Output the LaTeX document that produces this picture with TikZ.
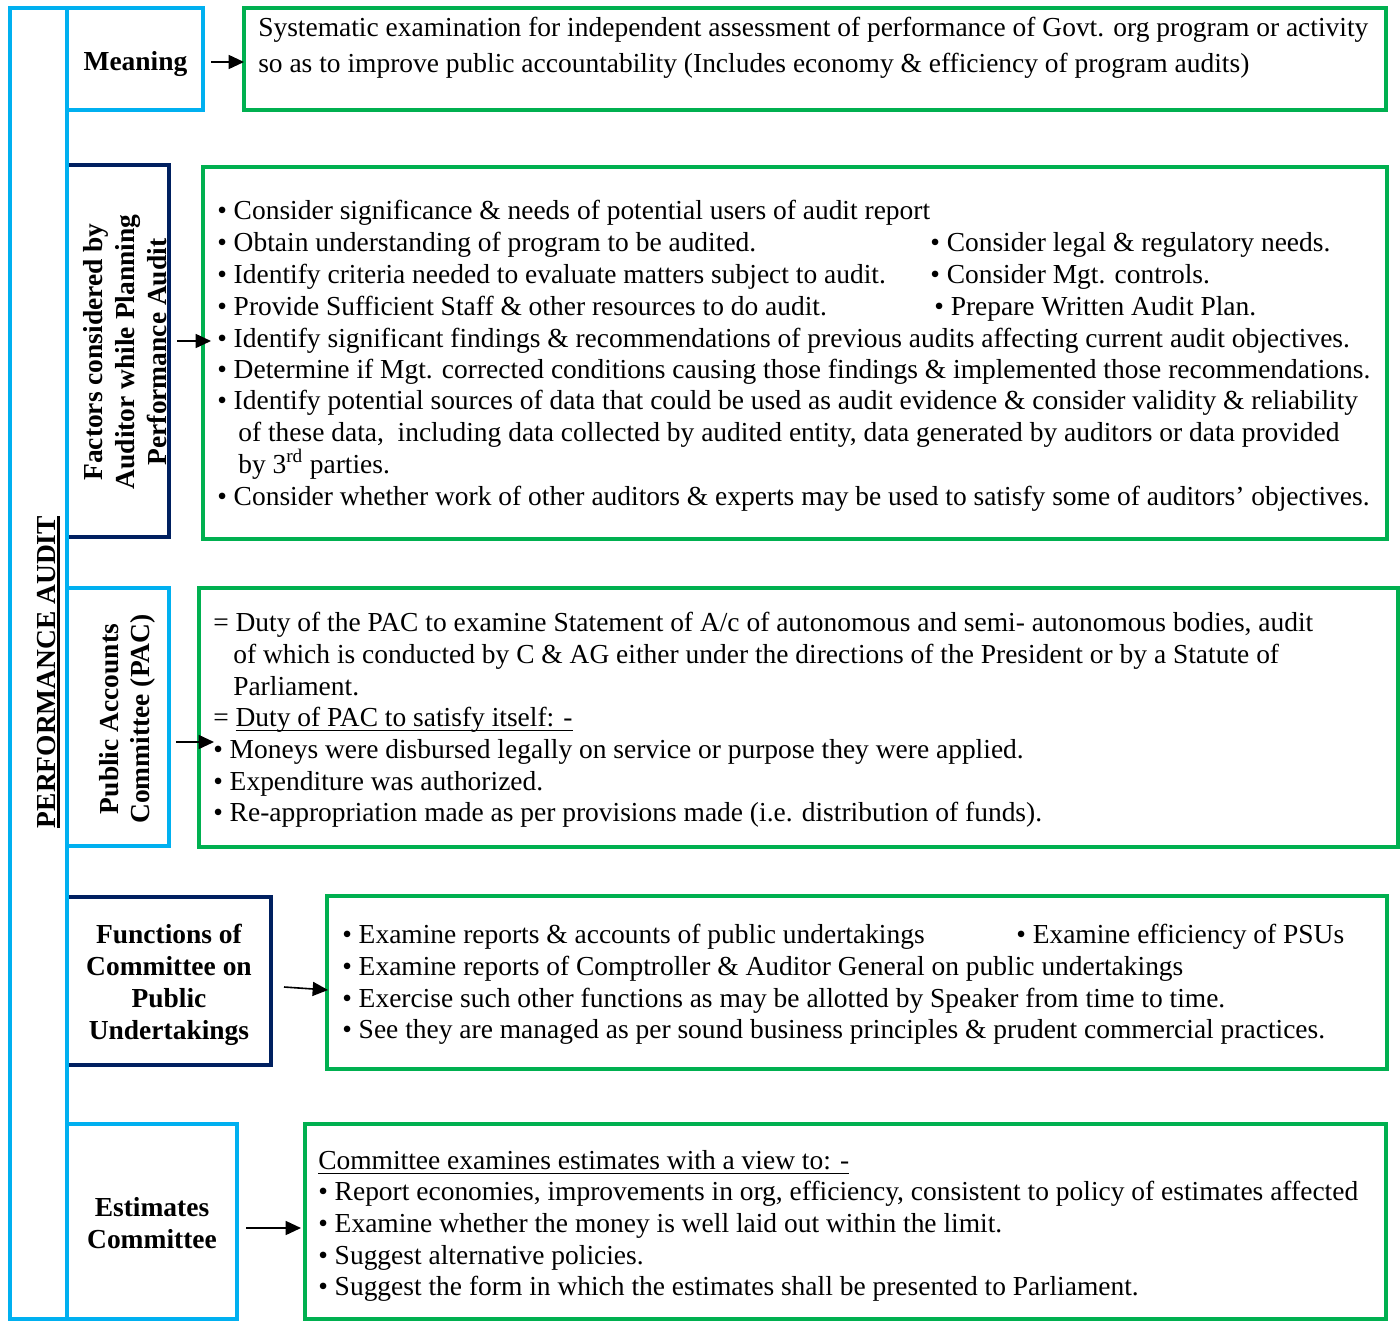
\documentclass[tikz,border=0pt]{standalone}
\usepackage{fontspec}
\setmainfont{Liberation Serif}
\usetikzlibrary{fit,arrows.meta}
\definecolor{cyanB}{HTML}{00B0F0}
\definecolor{greenB}{HTML}{00B050}
\definecolor{navyB}{HTML}{002060}
\newcommand\fs{\fontsize{20.6}{24}\selectfont}
\newcommand\myul[1]{{\setbox0\hbox{#1}\rlap{\rule[-4.1pt]{\wd0}{0.8pt}}\box0}}
\newcommand\myulb[1]{{\setbox0\hbox{#1}\rlap{\rule[-3.7pt]{\wd0}{2.3pt}}\box0}}
\begin{document}
\begin{tikzpicture}[x=0.75pt,y=-0.75pt,
  bx/.style={draw, line width=3.4pt, inner sep=0pt},
  cbox/.style={bx, draw=cyanB},
  gbox/.style={bx, draw=greenB},
  nbox/.style={bx, draw=navyB},
  txt/.style={anchor=base west, inner sep=0pt, font=\fs},
  lbl/.style={anchor=base, inner sep=0pt, font=\fs\bfseries},
  arr/.style={-{Triangle[length=11.5pt,width=10.5pt]}, line width=1.2pt}]
\useasboundingbox (0,0) rectangle (1400,1321);
% navy boxes
\node[nbox, fit={(67,165) (169,537)}] (factors) {};
\node[nbox, fit={(67,897) (271,1065)}] (cpu) {};
% left bar and cyan boxes
\node[cbox, fit={(10,8) (67,1319)}] (pa) {};
\node[cbox, fit={(67,8) (203,110)}] (meaning) {};
\node[cbox, fit={(67,588) (169,846)}] (pac) {};
\node[cbox, fit={(67,1124) (237,1319)}] (est) {};
% green boxes
\node[gbox, fit={(244,8) (1386,110)}] (gmeaning) {};
\node[gbox, fit={(203,167) (1387,539)}] (gfactors) {};
\node[gbox, fit={(199,588) (1398,847)}] (gpac) {};
\node[gbox, fit={(327,896) (1387,1069)}] (gcpu) {};
\node[gbox, fit={(305,1124) (1386,1319)}] (gest) {};
% left labels
\node[lbl, rotate=90] (pat) at (55,672) {\myulb{PERFORMANCE AUDIT}};
\node[lbl] (meaningt) at (135.5,70) {Meaning};
\node[lbl, rotate=90] (fa) at (102,352) {Factors considered by};
\node[lbl, rotate=90] (fb) at (134,352) {Auditor while Planning};
\node[lbl, rotate=90] (fc) at (166,352) {Performance Audit};
\node[lbl, rotate=90] (pa1) at (118,719) {Public Accounts};
\node[lbl, rotate=90] (pa2) at (149,719) {Committee (PAC)};
\node[lbl] (cu1) at (169,943) {Functions of};
\node[lbl] (cu2) at (169,975) {Committee on};
\node[lbl] (cu3) at (169,1007) {Public};
\node[lbl] (cu4) at (169,1039) {Undertakings};
\node[lbl] (es1) at (152,1216) {Estimates};
\node[lbl] (es2) at (152,1248) {Committee};
% meaning text
\node[txt] (m1) at (258,36) {Systematic examination for independent assessment of performance of Govt. org program or activity};
\node[txt] (m2) at (258,72) {so as to improve public accountability (Includes economy \& efficiency of program audits)};
% factors text
\node[txt] (f1) at (217,219) {• Consider significance \& needs of potential users of audit report};
\node[txt] (f2) at (217,251) {• Obtain understanding of program to be audited.};
\node[txt] (f2b) at (930,251) {• Consider legal \& regulatory needs.};
\node[txt] (f3) at (217,283) {• Identify criteria needed to evaluate matters subject to audit.};
\node[txt] (f3b) at (930,283) {• Consider Mgt. controls.};
\node[txt] (f4) at (217,315) {• Provide Sufficient Staff \& other resources to do audit.};
\node[txt] (f4b) at (934,315) {• Prepare Written Audit Plan.};
\node[txt] (f5) at (217,347) {• Identify significant findings \& recommendations of previous audits affecting current audit objectives.};
\node[txt] (f6) at (217,378) {• Determine if Mgt. corrected conditions causing those findings \& implemented those recommendations.};
\node[txt] (f7) at (217,409) {• Identify potential sources of data that could be used as audit evidence \& consider validity \& reliability};
\node[txt] (f8) at (238,441) {of these data,\ \ including data collected by audited entity, data generated by auditors or data provided};
\node[txt] (f9) at (238,473) {by 3\textsuperscript{rd} parties.};
\node[txt] (f10) at (217,505) {• Consider whether work of other auditors \& experts may be used to satisfy some of auditors' objectives.};
% PAC text
\node[txt] (p1) at (213,631) {= Duty of the PAC to examine Statement of A/c of autonomous and semi- autonomous bodies, audit};
\node[txt] (p2) at (233,663) {of which is conducted by C \& AG either under the directions of the President or by a Statute of};
\node[txt] (p3) at (233,695) {Parliament.};
\node[txt] (p4) at (213,726) {= \myul{Duty of PAC to satisfy itself: -}};
\node[txt] (p5) at (213,758) {• Moneys were disbursed legally on service or purpose they were applied.};
\node[txt] (p6) at (213,790) {• Expenditure was authorized.};
\node[txt] (p7) at (213,821) {• Re-appropriation made as per provisions made (i.e. distribution of funds).};
% CPU text
\node[txt] (c1) at (342,943) {• Examine reports \& accounts of public undertakings};
\node[txt] (c1b) at (1016,943) {• Examine efficiency of PSUs};
\node[txt] (c2) at (342,975) {• Examine reports of Comptroller \& Auditor General on public undertakings};
\node[txt] (c3) at (342,1007) {• Exercise such other functions as may be allotted by Speaker from time to time.};
\node[txt] (c4) at (342,1038) {• See they are managed as per sound business principles \& prudent commercial practices.};
% estimates text
\node[txt] (e1) at (318,1169) {\myul{Committee examines estimates with a view to: -}};
\node[txt] (e2) at (318,1200) {• Report economies, improvements in org, efficiency, consistent to policy of estimates affected};
\node[txt] (e3) at (318,1232) {• Examine whether the money is well laid out within the limit.};
\node[txt] (e4) at (318,1264) {• Suggest alternative policies.};
\node[txt] (e5) at (318,1295) {• Suggest the form in which the estimates shall be presented to Parliament.};
% arrows
\coordinate (a1s) at (211,62); \coordinate (a1e) at (244,62);
\coordinate (a2s) at (177,341); \coordinate (a2e) at (211,341);
\coordinate (a3s) at (176,742); \coordinate (a3e) at (214,742);
\coordinate (a4s) at (284,987); \coordinate (a4e) at (328,990);
\coordinate (a5s) at (246,1228); \coordinate (a5e) at (301,1228);
\draw[arr] (a1s) -- (a1e);
\draw[arr] (a2s) -- (a2e);
\draw[arr] (a3s) -- (a3e);
\draw[arr] (a4s) -- (a4e);
\draw[arr] (a5s) -- (a5e);
\end{tikzpicture}
\end{document}
